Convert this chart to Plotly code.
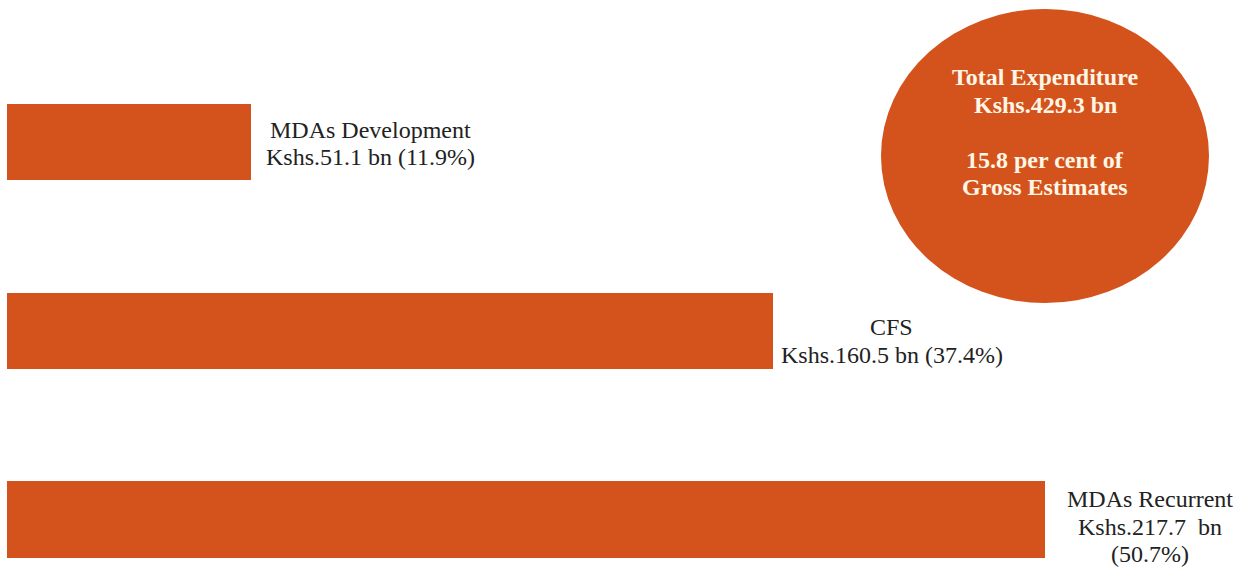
import plotly.graph_objects as go

# Data
categories = ["MDAs Recurrent", "CFS", "MDAs Development"]
values_bn = [217.7, 160.5, 51.1]
shares_pct = [50.7, 37.4, 11.9]
label_lines = [
    ["MDAs Recurrent", "Kshs.217.7  bn", "(50.7%)"],
    ["CFS", "Kshs.160.5 bn (37.4%)"],
    ["MDAs Development", "Kshs.51.1 bn (11.9%)"],
]
total_lines = ["Total Expenditure", "Kshs.429.3 bn", "", "15.8 per cent of", "Gross Estimates"]

BAR_COLOR = "#D4531C"
TEXT_FONT = "Liberation Serif, Times New Roman, serif"
W, H = 1243, 570
px_per_bn = 4.77
x0_px = 7
LINE_PX = 27.5

ypos = list(range(len(categories)))

fig = go.Figure(
    go.Bar(
        x=values_bn,
        y=ypos,
        orientation="h",
        width=0.403,
        marker=dict(color=BAR_COLOR, line=dict(width=0)),
        hoverinfo="skip",
    )
)

# label placement: horizontal offset (data units) and vertical shift of block centre (px)
label_dx = [22, 25, 25]
label_center_shift = [-7.5, -10, -1.5]
for i, (v, lines) in enumerate(zip(values_bn, label_lines)):
    n = len(lines)
    for j, line in enumerate(lines):
        fig.add_annotation(
            x=v + label_dx[i], y=ypos[i],
            yshift=label_center_shift[i] + ((n - 1) / 2 - j) * LINE_PX,
            text=line, showarrow=False, xanchor="center", yanchor="middle",
            font=dict(family=TEXT_FONT, size=24, color="#222222"),
        )

# the circle
fig.add_shape(
    type="circle", xref="paper", yref="paper",
    x0=881 / W, x1=1209 / W, y0=1 - 303 / H, y1=1 - 9 / H,
    fillcolor=BAR_COLOR, line=dict(width=0), layer="below",
)
circle_text_top = 77
for j, line in enumerate(total_lines):
    if not line:
        continue
    fig.add_annotation(
        xref="paper", yref="paper", x=1045 / W, y=1 - (circle_text_top + j * 27.5) / H,
        text=line, showarrow=False, xanchor="center", yanchor="middle",
        font=dict(family=TEXT_FONT, size=24, color="#FFF6E6", weight="bold"),
    )

fig.update_layout(
    width=W, height=H,
    margin=dict(l=0, r=0, t=0, b=0),
    paper_bgcolor="white", plot_bgcolor="white",
    showlegend=False,
    xaxis=dict(range=[-x0_px / px_per_bn, (W - x0_px) / px_per_bn], visible=False, fixedrange=True),
    yaxis=dict(range=[-0.2676, 2.7525], visible=False, fixedrange=True),
    bargap=0,
)

fig.write_html(
    "out.html",
    config={"displayModeBar": False},
    post_script="document.body.style.margin='0';document.body.style.overflow='hidden';",
)
